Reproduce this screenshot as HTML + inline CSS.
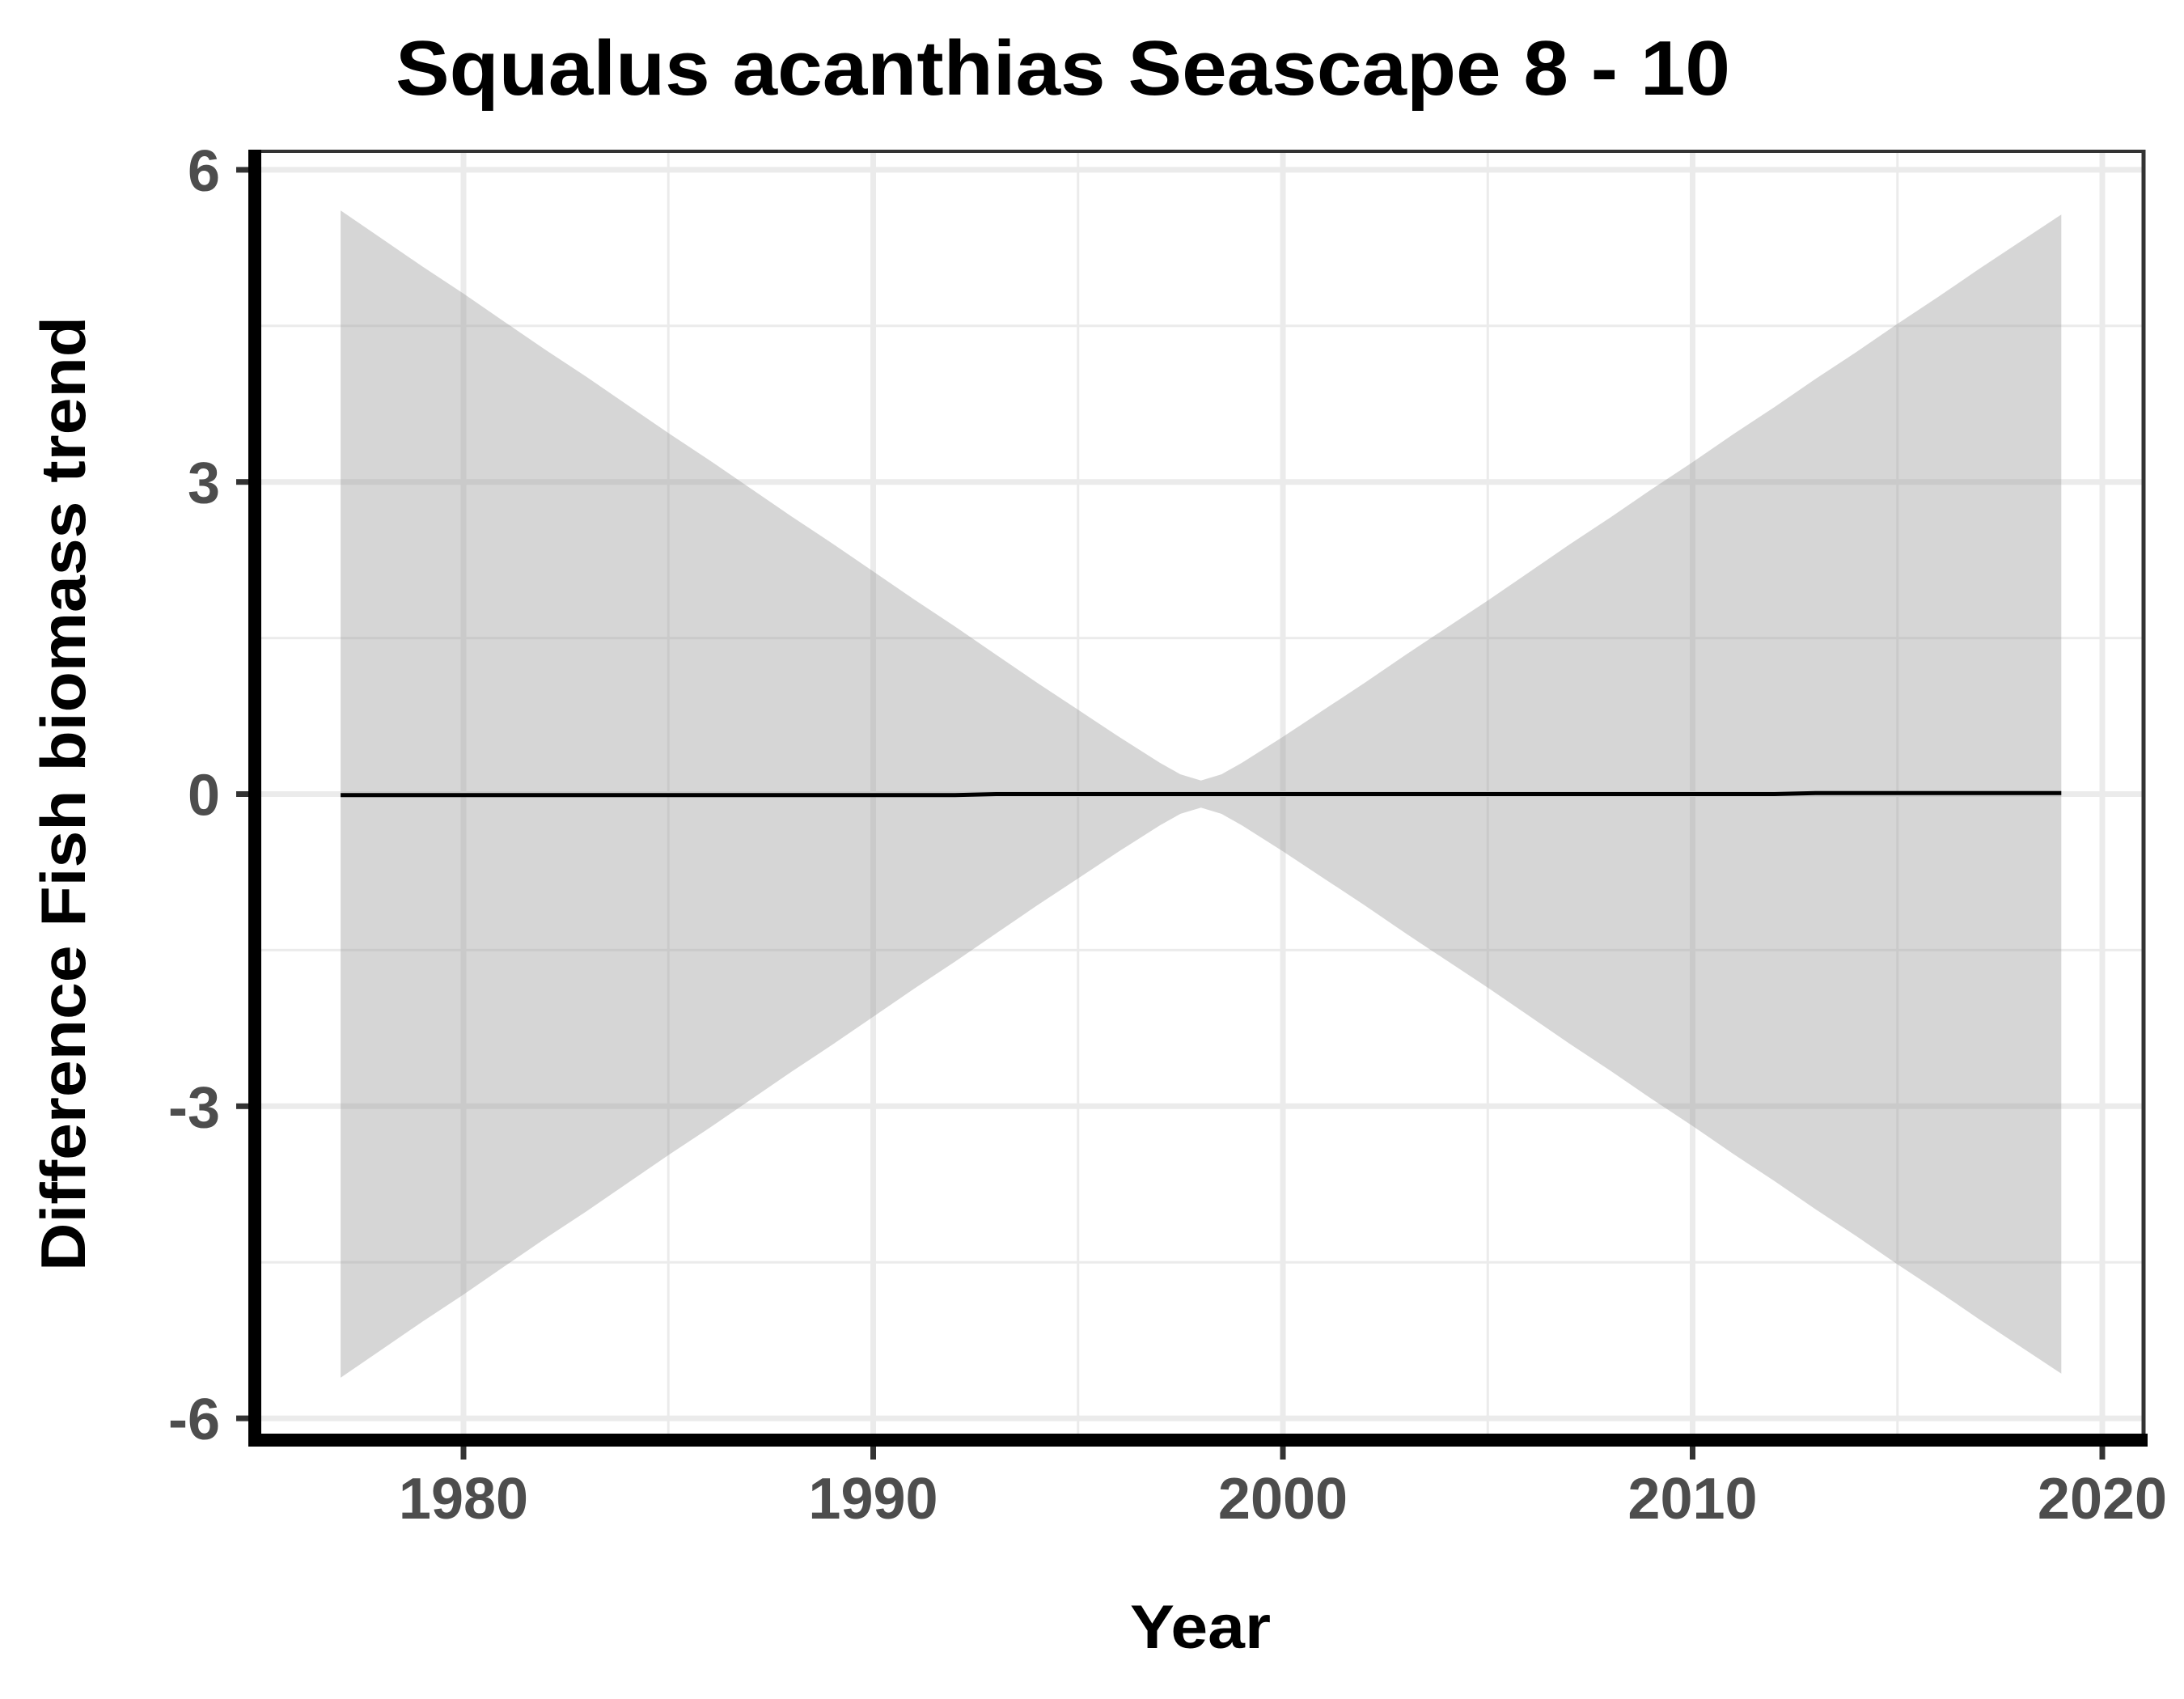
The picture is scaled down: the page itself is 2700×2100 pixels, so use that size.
<!DOCTYPE html>
<html><head><meta charset="utf-8"><style>
html,body{margin:0;padding:0;background:#fff;}
svg{display:block;font-family:"Liberation Sans",Arial,sans-serif;font-weight:bold;}
</style></head><body>
<svg id="chart" width="2700" height="2100" viewBox="0 0 2700 2100" xmlns="http://www.w3.org/2000/svg">
<rect width="2700" height="2100" fill="#fff"/>
<g id="grid"></g>
<g id="marks"></g>
<g id="axes"></g>
<text x="1314" y="117" font-size="96" text-anchor="middle" textLength="1650" lengthAdjust="spacingAndGlyphs" fill="#000">Squalus acanthias Seascape 8 - 10</text>
<text x="1484" y="2037" font-size="76" text-anchor="middle" textLength="174" lengthAdjust="spacingAndGlyphs" fill="#000">Year</text>
<text transform="translate(105,981) rotate(-90)" x="0" y="0" font-size="78" text-anchor="middle" textLength="1180" lengthAdjust="spacingAndGlyphs" fill="#000">Difference Fish biomass trend</text>
</svg>
<script>
const years = [1977,1978,1979,1980,1981,1982,1983,1984,1985,1986,1987,1988,1989,1990,1991,1992,1993,1994,1995,1996,1997,1997.5,1998,1998.5,1999,2000,2001,2002,2003,2004,2005,2006,2007,2008,2009,2010,2011,2012,2013,2014,2015,2016,2017,2018,2019];
const upper = [5.61,5.34,5.07,4.81,4.54,4.27,4.01,3.74,3.47,3.21,2.94,2.67,2.41,2.14,1.87,1.61,1.34,1.07,0.81,0.55,0.30,0.19,0.13,0.19,0.30,0.55,0.81,1.07,1.34,1.60,1.86,2.13,2.40,2.66,2.93,3.19,3.46,3.72,3.99,4.25,4.52,4.78,5.05,5.31,5.57];
const lower = [-5.61,-5.34,-5.07,-4.81,-4.54,-4.27,-4.01,-3.74,-3.47,-3.21,-2.94,-2.67,-2.41,-2.14,-1.87,-1.61,-1.34,-1.07,-0.81,-0.55,-0.30,-0.19,-0.13,-0.19,-0.30,-0.55,-0.81,-1.07,-1.34,-1.60,-1.86,-2.13,-2.40,-2.66,-2.93,-3.19,-3.46,-3.72,-3.99,-4.25,-4.52,-4.78,-5.05,-5.31,-5.57];
const trend = [-0.01,-0.01,-0.01,-0.01,-0.01,-0.01,-0.01,-0.01,-0.01,-0.01,-0.01,-0.01,-0.01,-0.01,-0.01,-0.01,0,0,0,0,0,0,0,0,0,0,0,0,0,0,0,0,0,0,0,0,0,0,0.01,0.01,0.01,0.01,0.01,0.01,0.01];
const xTicks = [1980,1990,2000,2010,2020];
const xMinor = [1985,1995,2005,2015];
const yTicks = [-6,-3,0,3,6];
const yMinor = [-4.5,-1.5,1.5,4.5];

const NS='http://www.w3.org/2000/svg';
const X = v => 573 + (v-1980)*50.65;
const Y = v => 981.5 - v*128.6;
const PL=323, PR=2650, PT=188, PB=1772;
function mk(tag, attrs, parent){const e=document.createElementNS(NS,tag);for(const k in attrs)e.setAttribute(k,attrs[k]);parent.appendChild(e);return e;}
const grid=document.getElementById('grid'), marks=document.getElementById('marks'), axes=document.getElementById('axes');

xMinor.forEach(v=>{const l=mk('line',{x1:X(v),x2:X(v),y1:PT,y2:PB,stroke:'#ebebeb','stroke-width':3},grid);

});
yMinor.forEach(v=>{const l=mk('line',{x1:PL,x2:PR,y1:Y(v),y2:Y(v),stroke:'#ebebeb','stroke-width':3},grid);

});
xTicks.forEach(v=>{const l=mk('line',{x1:X(v),x2:X(v),y1:PT,y2:PB,stroke:'#ebebeb','stroke-width':7},grid);

});
yTicks.forEach(v=>{const l=mk('line',{x1:PL,x2:PR,y1:Y(v),y2:Y(v),stroke:'#ebebeb','stroke-width':7},grid);

});

let d='';
years.forEach((yr,i)=>{d+=(i?'L':'M')+X(yr).toFixed(1)+','+Y(upper[i]).toFixed(1);});
for(let i=years.length-1;i>=0;i--){d+='L'+X(years[i]).toFixed(1)+','+Y(lower[i]).toFixed(1);}
const rib=mk('path',{d:d+'Z',fill:'#999','fill-opacity':0.4},marks);


const ln=mk('polyline',{points:years.map((yr,i)=>X(yr).toFixed(1)+','+Y(trend[i]).toFixed(1)).join(' '),fill:'none',stroke:'#000','stroke-width':5},marks);



// panel borders
const tb=mk('line',{x1:PL,x2:2652,y1:187,y2:187,stroke:'#333','stroke-width':4},axes);


const rb=mk('line',{x1:2650,x2:2650,y1:185,y2:1780,stroke:'#333','stroke-width':5},axes);


const ya=mk('rect',{x:307,y:185,width:16,height:1603,fill:'#000'},axes);


const xa=mk('rect',{x:315,y:1772,width:2340,height:16,fill:'#000'},axes);



xTicks.forEach(v=>{
 const t=mk('rect',{x:X(v)-3.5,y:1788,width:7,height:16,fill:'#333'},axes);
 
 
 const lb=mk('text',{x:X(v),y:1877,'font-size':72,'text-anchor':'middle',fill:'#4d4d4d'},axes);
 lb.textContent=v;
 
 
});
yTicks.forEach(v=>{
 const t=mk('rect',{x:292,y:Y(v)-3.5,width:15,height:7,fill:'#333'},axes);
 
 
 const lb=mk('text',{x:272,y:Y(v)+26,'font-size':72,'text-anchor':'end',fill:'#4d4d4d'},axes);
 lb.textContent=v;
 
 
});
</script>
</body></html>
